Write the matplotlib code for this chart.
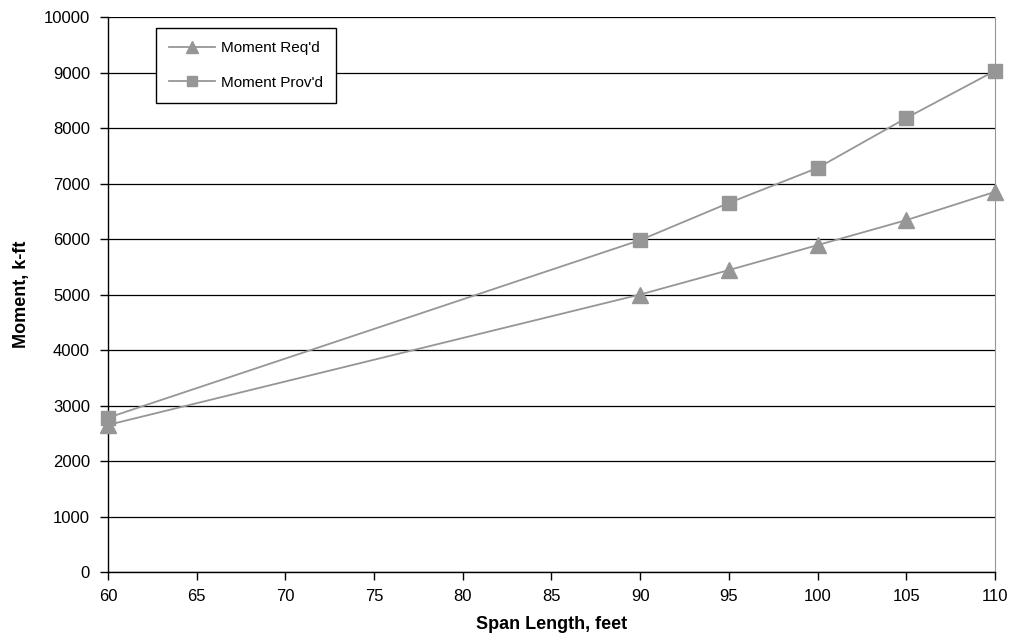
import matplotlib
matplotlib.use("Agg")
import matplotlib.pyplot as plt

plt.rcParams["font.family"] = ["Liberation Sans", "DejaVu Sans"]

span = [60, 90, 95, 100, 105, 110]
moment_reqd = [2650, 5000, 5440, 5890, 6340, 6850]
moment_provd = [2780, 5980, 6650, 7280, 8180, 9030]

x_ticks = [60, 65, 70, 75, 80, 85, 90, 95, 100, 105, 110]
y_ticks = list(range(0, 10001, 1000))

GRAY = "#969696"

fig = plt.figure(figsize=(10.13, 6.42), dpi=100)
ax = fig.add_axes([0.1066, 0.109, 0.8756, 0.8645])

ax.plot(span, moment_reqd, color=GRAY, lw=1.3, marker="^", ms=11,
        mfc=GRAY, mec=GRAY, label="Moment Req'd", clip_on=False, zorder=3)
ax.plot(span, moment_provd, color=GRAY, lw=1.3, marker="s", ms=10,
        mfc=GRAY, mec=GRAY, label="Moment Prov'd", clip_on=False, zorder=3)

ax.set_xlim(60, 110)
ax.set_ylim(0, 10000)
ax.set_xticks(x_ticks)
ax.set_yticks(y_ticks)
ax.yaxis.grid(True, color="black", lw=0.9)
ax.set_axisbelow(True)

ax.spines["top"].set_visible(False)
ax.spines["right"].set_color(GRAY)
ax.spines["left"].set_color("black")
ax.spines["bottom"].set_color("black")
ax.spines["left"].set_linewidth(1.0)
ax.spines["bottom"].set_linewidth(1.0)

ax.tick_params(axis="both", direction="out", length=6, width=1.0,
               labelsize=12, colors="black")
ax.tick_params(axis="y", pad=7)
ax.tick_params(axis="x", pad=6)

ax.set_xlabel("Span Length, feet", fontsize=13, fontweight="bold", labelpad=9)
ax.set_ylabel("Moment, k-ft", fontsize=13, fontweight="bold", labelpad=10)

leg = ax.legend(loc="upper left", bbox_to_anchor=(0.054, 0.98), borderaxespad=0,
                fancybox=False, edgecolor="black", framealpha=1, fontsize=11,
                handlelength=3.0, labelspacing=1.35, borderpad=0.85,
                handletextpad=0.4, markerscale=0.75)
leg.get_frame().set_linewidth(1.0)

fig.savefig("out.png", dpi=100)
